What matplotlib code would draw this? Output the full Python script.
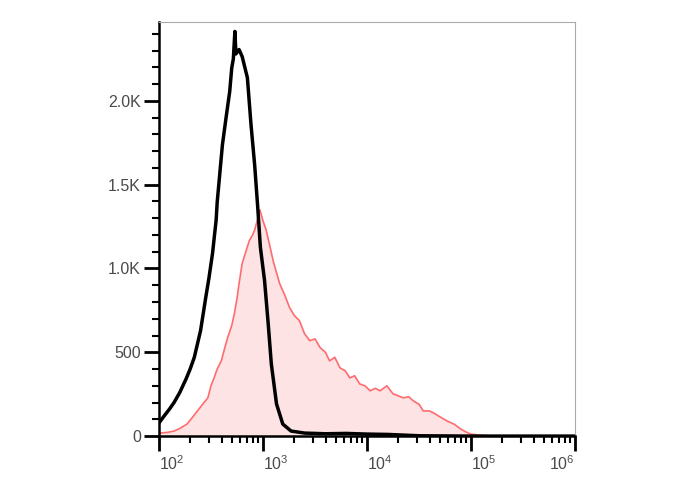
import numpy as np
import matplotlib
matplotlib.use("Agg")
import matplotlib.pyplot as plt
from matplotlib.ticker import MultipleLocator, LogLocator, NullFormatter

# isotype control (black line), log10 of intensity vs count
ctrl_log = [2.00, 2.05, 2.10, 2.145, 2.20, 2.26, 2.30, 2.34, 2.40, 2.45, 2.48, 2.515,
            2.55, 2.56, 2.61, 2.645, 2.68, 2.70, 2.715, 2.73, 2.74, 2.77, 2.80, 2.85,
            2.885, 2.92, 2.95, 2.975, 3.015, 3.05, 3.08, 3.13, 3.19, 3.27, 3.40, 3.60,
            3.80, 4.00, 4.20, 4.35, 4.50, 5.00, 6.00]
ctrl_cnt = [78, 120, 160, 200, 260, 340, 400, 470, 629, 827, 940, 1090,
            1290, 1396, 1737, 1899, 2055, 2198, 2250, 2414, 2280, 2306, 2264, 2138,
            1857, 1617, 1360, 1126, 928, 671, 431, 192, 72, 30, 18, 14,
            16, 12, 10, 6, 2, 0, 0]

# stained sample (red filled)
samp_log = [2.00, 2.08, 2.145, 2.20, 2.27, 2.32, 2.37, 2.42, 2.47, 2.50, 2.53, 2.56,
            2.60, 2.63, 2.66, 2.70, 2.725, 2.75, 2.77, 2.80, 2.84, 2.87, 2.90, 2.92,
            2.95, 2.97, 2.998, 3.03, 3.06, 3.10, 3.16, 3.21, 3.255, 3.30, 3.35, 3.40,
            3.45, 3.50, 3.55, 3.60, 3.64, 3.69, 3.74, 3.79, 3.835, 3.88, 3.93, 3.98,
            4.03, 4.08, 4.125, 4.19, 4.25, 4.30, 4.35, 4.40, 4.445, 4.50, 4.54, 4.60,
            4.64, 4.70, 4.77, 4.84, 4.90, 4.95, 4.995, 5.10, 5.20, 6.00]
samp_cnt = [18, 22, 30, 45, 72, 110, 150, 190, 228, 300, 347, 400,
            449, 520, 587, 660, 731, 820, 910, 1030, 1110, 1168, 1200, 1228,
            1300, 1350, 1288, 1230, 1150, 1040, 910, 840, 767, 720, 689, 610,
            569, 580, 527, 500, 449, 470, 407, 390, 347, 360, 311, 300,
            270, 285, 270, 300, 252, 240, 228, 235, 210, 190, 150, 150,
            138, 115, 90, 70, 42, 25, 12, 5, 0, 0]

xtick_pos = [1e2, 1e3, 1e4, 1e5, 1e6]
xtick_lab = [r'$\mathdefault{10^{2}}$', r'$\mathdefault{10^{3}}$', r'$\mathdefault{10^{4}}$',
             r'$\mathdefault{10^{5}}$', r'$\mathdefault{10^{6}}$']
ytick_pos = [0, 500, 1000, 1500, 2000]
ytick_lab = ['0', '500', '1.0K', '1.5K', '2.0K']

plt.rcParams['font.family'] = ['Liberation Sans', 'DejaVu Sans']

fig = plt.figure(figsize=(6.88, 4.9), dpi=100)
ax = fig.add_axes([0.231, 0.110, 0.605, 0.845])

sx = 10 ** np.array(samp_log)
cx = 10 ** np.array(ctrl_log)
ax.fill_between(sx, samp_cnt, 0, color='#fde3e3', lw=0)
ax.plot(sx, samp_cnt, color='#ff6b6f', lw=1.2)
ax.plot(cx, ctrl_cnt, color='black', lw=2.5)

ax.set_xscale('log')
ax.set_xlim(1e2, 1e6)
ax.set_ylim(0, 2470)

ax.set_xticks(xtick_pos)
ax.set_xticklabels(xtick_lab)
for lab, t in zip(ax.get_xticklabels(), xtick_pos):
    lab.set_horizontalalignment('right' if t == 1e6 else 'left')
ax.xaxis.set_minor_locator(LogLocator(base=10, subs=np.arange(2, 10), numticks=20))
ax.xaxis.set_minor_formatter(NullFormatter())

ax.set_yticks(ytick_pos)
ax.set_yticklabels(ytick_lab)
ax.yaxis.set_minor_locator(MultipleLocator(100))

ax.tick_params(axis='both', which='major', length=11, width=2, color='black',
               labelsize=11.5, labelcolor='#4a4a4a', pad=2)
ax.tick_params(axis='both', which='minor', length=5, width=1.5, color='black')

for s in ['left', 'bottom']:
    ax.spines[s].set_color('black')
    ax.spines[s].set_linewidth(1.8)
for s in ['top', 'right']:
    ax.spines[s].set_color('#aaaaaa')
    ax.spines[s].set_linewidth(0.8)

fig.savefig('out.png', dpi=100)
